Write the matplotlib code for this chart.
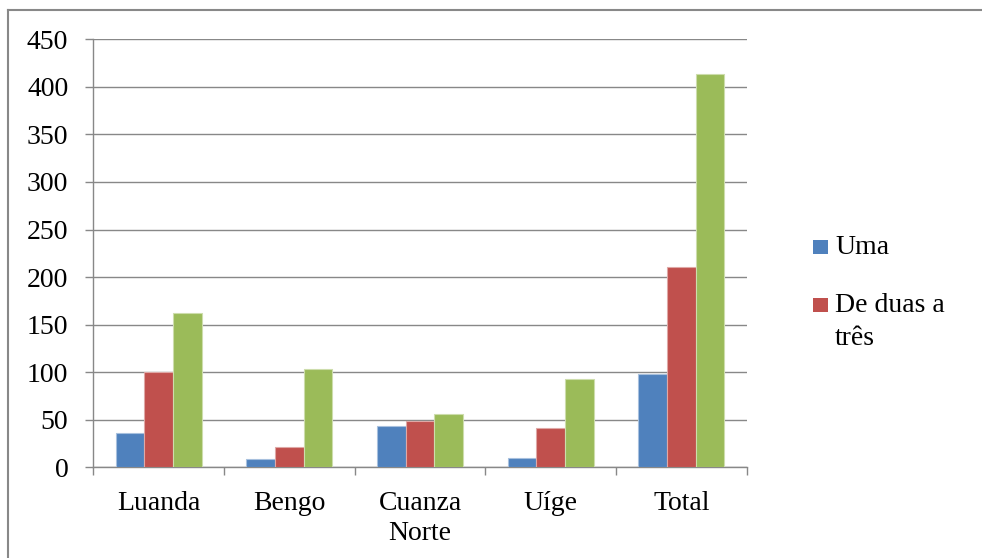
import matplotlib.pyplot as plt
import numpy as np
from matplotlib.lines import Line2D
from matplotlib.patches import Rectangle

# Provinces and counts per group
provinces = ['Luanda', 'Bengo', 'Cuanza\nNorte', 'Uíge', 'Total']
uma = [36, 9, 43, 10, 98]
duas_tres = [100, 21, 49, 41, 211]
outras = [162, 103, 56, 93, 414]

series = [uma, duas_tres, outras]
colors = ['#4F81BD', '#C0504D', '#9BBB59']
edges = ['#A7C0DE', '#DFA8A6', '#CDDDAC']
labels = ['Uma', 'De duas a\ntrês']

plt.rcParams['font.family'] = ['Liberation Serif', 'DejaVu Serif']
grid_gray = '#888888'

fig = plt.figure(figsize=(9.82, 5.58), dpi=100)
W, H = 982, 558
ax = fig.add_axes([93.3 / W, (H - 467.3) / H, (746.7 - 93.3) / W, (467.3 - 39.3) / H])

x = np.arange(len(provinces))
width = 0.22
for i, vals in enumerate(series):
    ax.bar(x + (i - 1) * width, vals, width, color=colors[i],
           edgecolor=edges[i], linewidth=0.8, zorder=3)

ax.set_xlim(-0.5, len(provinces) - 0.5)
ax.set_ylim(0, 450)
ax.set_yticks(np.arange(0, 451, 50))
ax.yaxis.grid(True, color=grid_gray, linewidth=1.0, zorder=0)

# boundary ticks between categories, labels centred on each group
ax.set_xticks(np.arange(-0.5, len(provinces), 1))
ax.set_xticklabels([])
ax.set_xticks(x, minor=True)
ax.set_xticklabels(provinces, minor=True)
ax.tick_params(axis='x', which='major', length=6, width=1.0, color=grid_gray)
ax.tick_params(axis='x', which='minor', length=0, pad=17, labelsize=20)
ax.tick_params(axis='y', length=6, width=1.0, color=grid_gray, pad=12, labelsize=20)
for t in ax.get_xticklabels(minor=True):
    t.set_linespacing(1.25)

for side in ['top', 'right']:
    ax.spines[side].set_visible(False)
for side in ['left', 'bottom']:
    ax.spines[side].set_color(grid_gray)
    ax.spines[side].set_linewidth(1.0)

# legend keys, placed by hand so the key sits on the first label line
key = 14.4
for i, (lab, top) in enumerate(zip(labels, [240, 298])):
    fig.add_artist(Rectangle((813.3 / W, (H - top - key) / H), key / W, key / H,
                             facecolor=colors[i], edgecolor='none'))
    fig.text(835 / W, (H - top + 4.5) / H, lab, fontsize=20,
             va='top', ha='left', linespacing=1.42)

# chart area frame
fig.add_artist(Line2D([8 / W, 1.0], [(H - 10) / H, (H - 10) / H],
                      color=grid_gray, linewidth=1.5))
fig.add_artist(Line2D([8 / W, 8 / W], [0.0, (H - 10) / H],
                      color=grid_gray, linewidth=1.5))

fig.savefig('out.png', dpi=100)
